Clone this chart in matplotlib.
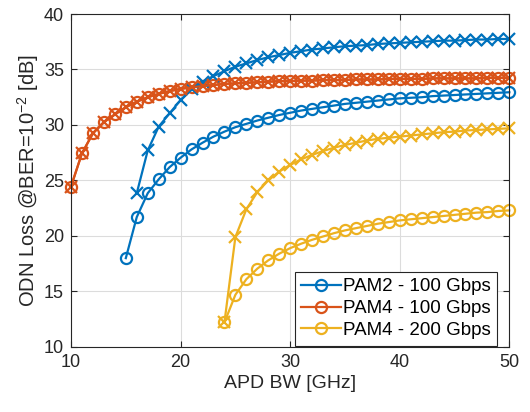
import numpy as np
import matplotlib
matplotlib.use('Agg')
import matplotlib.pyplot as plt

plt.rcParams['font.family'] = 'Liberation Sans'
plt.rcParams['mathtext.fontset'] = 'custom'
plt.rcParams['mathtext.rm'] = 'Liberation Sans'
plt.rcParams['mathtext.it'] = 'Liberation Sans'

# PAM2 - 100 Gbps
bw_pam2 = list(range(15, 51))
loss_pam2_o = [18.0, 21.7, 23.85, 25.1, 26.2, 27.05, 27.8, 28.4, 28.95, 29.4,
               29.8, 30.1, 30.4, 30.65, 30.9, 31.1, 31.3, 31.45, 31.6, 31.75,
               31.9, 32.0, 32.1, 32.2, 32.3, 32.4, 32.45, 32.5, 32.6, 32.65,
               32.7, 32.75, 32.8, 32.85, 32.9, 32.95]
bw_pam2_x = list(range(16, 51))
loss_pam2_x = [23.85, 27.7, 29.85, 31.05, 32.25, 33.2, 33.9, 34.4, 34.85, 35.25,
               35.55, 35.85, 36.1, 36.3, 36.5, 36.65, 36.8, 36.9, 37.0, 37.1,
               37.15, 37.2, 37.3, 37.35, 37.4, 37.45, 37.5, 37.55, 37.6, 37.6,
               37.65, 37.7, 37.7, 37.75, 37.75]

# PAM4 - 100 Gbps
bw_pam4 = list(range(10, 51))
loss_pam4_o = [24.45, 27.45, 29.25, 30.25, 30.95, 31.6, 32.1, 32.5, 32.8, 33.05,
               33.25, 33.4, 33.5, 33.6, 33.7, 33.75, 33.8, 33.85, 33.9, 33.95,
               33.95, 34.0, 34.0, 34.05, 34.05, 34.05, 34.1, 34.1, 34.1, 34.15,
               34.15, 34.15, 34.15, 34.2, 34.2, 34.2, 34.2, 34.2, 34.25, 34.25,
               34.25]
loss_pam4_x = [24.45, 27.45, 29.25, 30.25, 30.95, 31.6, 32.1, 32.5, 32.8, 33.05,
               33.25, 33.4, 33.5, 33.6, 33.7, 33.75, 33.8, 33.85, 33.9, 33.95,
               33.95, 34.0, 34.0, 34.05, 34.05, 34.05, 34.1, 34.1, 34.1, 34.15,
               34.15, 34.15, 34.15, 34.2, 34.2, 34.2, 34.2, 34.2, 34.25, 34.25,
               34.25]

# PAM4 - 200 Gbps
bw_pam4_200 = list(range(24, 51))
loss_pam4_200_o = [12.2, 14.7, 16.1, 17.05, 17.8, 18.4, 18.9, 19.3, 19.65, 19.95,
                   20.25, 20.5, 20.7, 20.9, 21.1, 21.25, 21.4, 21.5, 21.6, 21.7,
                   21.8, 21.9, 22.0, 22.1, 22.15, 22.25, 22.3]
loss_pam4_200_x = [12.2, 19.9, 22.4, 23.95, 25.0, 25.8, 26.4, 26.9, 27.3, 27.65,
                   27.95, 28.2, 28.4, 28.6, 28.75, 28.85, 28.95, 29.05, 29.15, 29.25,
                   29.35, 29.4, 29.5, 29.55, 29.6, 29.65, 29.7]

blue = '#0072BD'
orange = '#D95319'
yellow = '#EDB120'
dark = '#262626'

fig = plt.figure(figsize=(5.3, 4.12), dpi=100)
ax = fig.add_axes([0.134, 0.158, 0.827, 0.808])

lw = 1.6
ms = 8
mew = 1.6

ax.plot(bw_pam2, loss_pam2_o, '-o', color=blue, lw=lw, ms=ms, mew=mew,
        mfc='none', label='PAM2 - 100 Gbps', clip_on=False)
ax.plot(bw_pam4, loss_pam4_o, '-o', color=orange, lw=lw, ms=ms, mew=mew,
        mfc='none', label='PAM4 - 100 Gbps', clip_on=False)
ax.plot(bw_pam4_200, loss_pam4_200_o, '-o', color=yellow, lw=lw, ms=ms, mew=mew,
        mfc='none', label='PAM4 - 200 Gbps', clip_on=False)
ax.plot(bw_pam2_x, loss_pam2_x, '-x', color=blue, lw=lw, ms=ms, mew=mew, clip_on=False)
ax.plot(bw_pam4, loss_pam4_x, '-x', color=orange, lw=lw, ms=ms, mew=mew, clip_on=False)
ax.plot(bw_pam4_200, loss_pam4_200_x, '-x', color=yellow, lw=lw, ms=ms, mew=mew, clip_on=False)

ax.set_xlim(10, 50)
ax.set_ylim(10, 40)
ax.set_xticks([10, 20, 30, 40, 50])
ax.set_yticks([10, 15, 20, 25, 30, 35, 40])
ax.grid(True, color='#dcdcdc', lw=0.8)
ax.set_axisbelow(True)
ax.tick_params(direction='in', top=True, right=True, length=4, width=0.8,
               labelsize=13, colors=dark, pad=5)
for s in ax.spines.values():
    s.set_color(dark)
    s.set_linewidth(0.8)

ax.set_xlabel('APD BW [GHz]', fontsize=14, color=dark, labelpad=3)
ax.set_ylabel('ODN Loss @BER=10$^{-2}$ [dB]', fontsize=14.5, color=dark, labelpad=2)

leg = ax.legend(loc='lower right', bbox_to_anchor=(0.972, 0.004), fontsize=13.5,
                frameon=True, fancybox=False, borderpad=0.35, handlelength=2.1,
                handletextpad=0.1, labelspacing=0.25, borderaxespad=0)
leg.get_frame().set_edgecolor(dark)
leg.get_frame().set_linewidth(0.8)
leg.get_frame().set_alpha(1)
leg.set_zorder(5)

fig.savefig('out.png', dpi=100)
